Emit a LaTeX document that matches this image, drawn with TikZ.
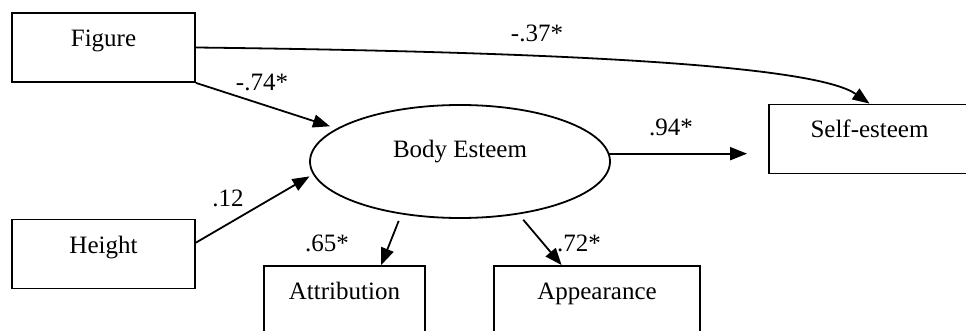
\documentclass[tikz,border=0pt]{standalone}
\usepackage{fontspec}
\setmainfont{Liberation Serif}
\usetikzlibrary{arrows.meta,shapes.geometric}

\begin{document}
\begin{tikzpicture}[x=1pt,y=-1pt,
        font=\fontsize{25}{30}\selectfont,
        line width=1.8pt,
        >={Triangle[length=17pt,width=13pt]},
        varbox/.style={draw, rectangle, inner sep=0pt, minimum height=69pt,
            text height=18pt, text depth=20pt},
        latent/.style={draw, ellipse, inner sep=0pt,
            minimum width=300pt, minimum height=113pt}]
        \useasboundingbox (0,0) rectangle (966,331);
        % observed variables
        \node[varbox, minimum width=183pt] (fig) at (103.5,47.5) {Figure};
        \node[varbox, minimum width=183pt] (hgt) at (103.5,254) {Height};
        \node[varbox, minimum width=201pt] (self) at (869.5,139) {Self-esteem};
        \node[varbox, minimum width=161pt] (attr) at (344.5,300.5) {Attribution};
        \node[varbox, minimum width=206pt] (app) at (597,300.5) {Appearance};
        % latent variable
        \node[latent] (be) at (460,161.5) {};
        \node (betext) at (460,152) {Body Esteem};
        % paths
        \draw[->] (fig.east) .. controls +(420,5) and +(-50,-35) .. (self.north);
        \draw[->, shorten >=7pt] (fig.south east) -- (be.165);
        \draw[->, shorten >=4pt] (hgt.7) -- (be.185);
        \draw[->, shorten >=21pt] (be.3) -- (be.3 -| self.west);
        \draw[->, shorten <=7pt] (be.-138) -- (attr.44);
        \draw[->, shorten <=7pt] (be.-42.5) -- (app.135);
        % coefficients
        \node (l37) at (537,33) {-.37*};
        \node (l74) at (262,82) {-.74*};
        \node (l12) at (228,198) {.12};
        \node (l94) at (671,127) {.94*};
        \node (l65) at (327,243) {.65*};
        \node (l72) at (579,243) {.72*};
    \end{tikzpicture}
\end{document}
